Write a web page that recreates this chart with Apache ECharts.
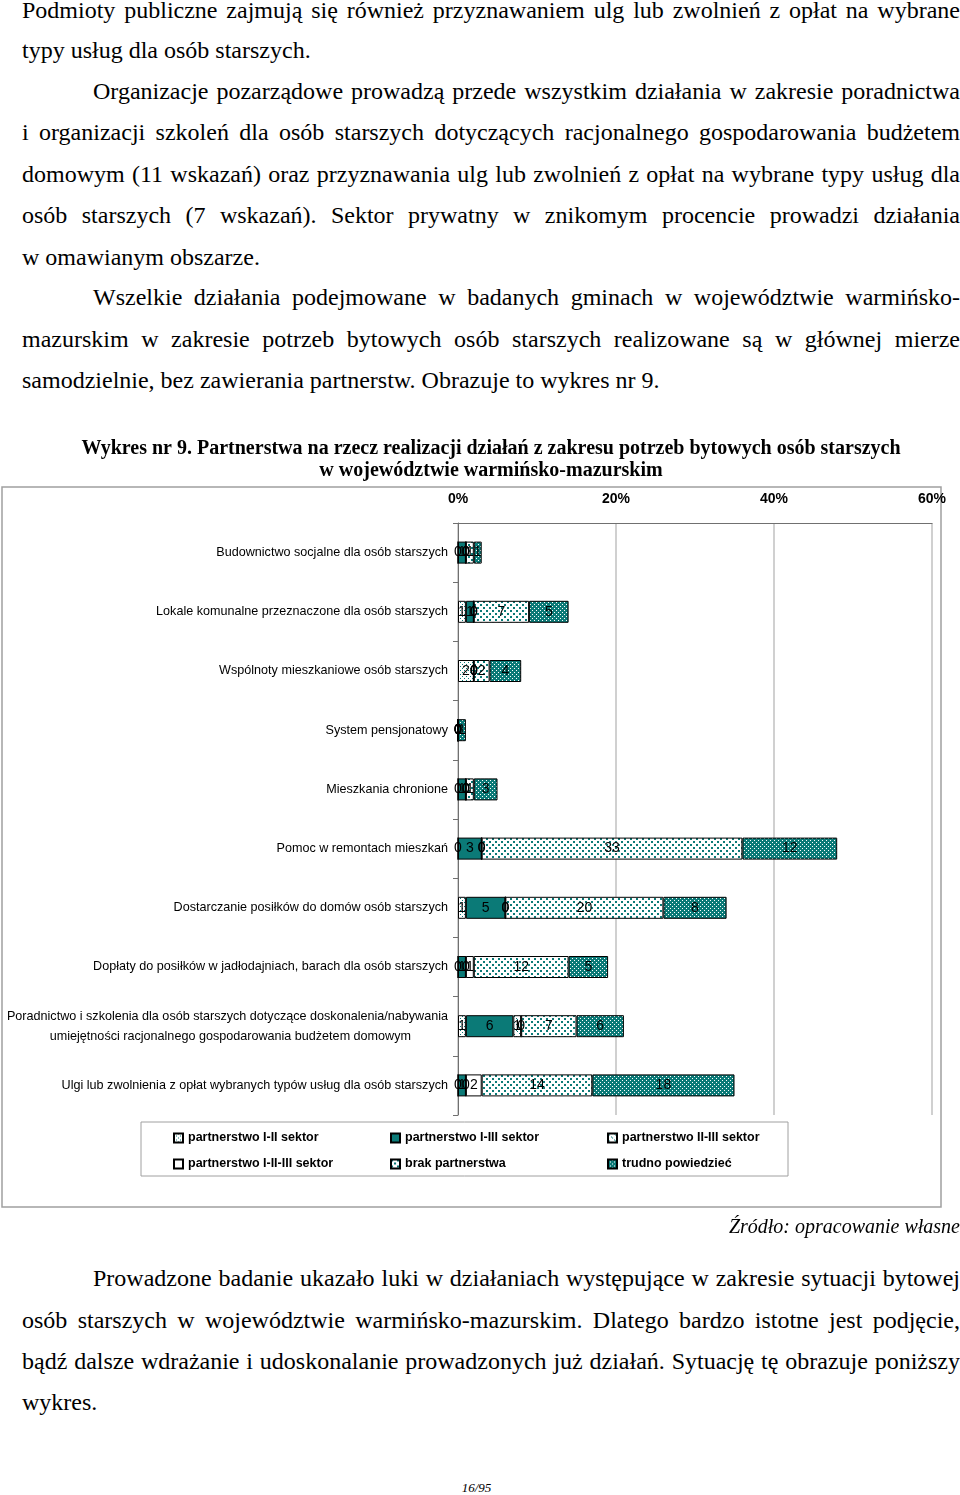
<!DOCTYPE html>
<html>
<head>
<meta charset="utf-8">
<script src="https://cdn.jsdelivr.net/npm/echarts@6/dist/echarts.min.js"></script>
<style>
  html, body { margin: 0; padding: 0; background: #fff; }
  body { width: 960px; height: 1495px; position: relative; overflow: hidden; }
  .ln { position: absolute; font-family: "Liberation Serif", "Times New Roman", serif; font-size: 24px; line-height: 24px; color: #000; white-space: nowrap; }
  .j { text-align: justify; text-align-last: justify; white-space: normal; }
  #chart { position: absolute; left: 0; top: 430px; width: 960px; height: 815px; }
</style>
</head>
<body>
<div class="ln j" style="left:22px;width:938px;top:-2px;">Podmioty publiczne zajmują się również przyznawaniem ulg lub zwolnień z opłat na wybrane</div>
<div class="ln" style="left:22px;top:38px;">typy usług dla osób starszych.</div>
<div class="ln j" style="left:93px;width:867px;top:79px;">Organizacje pozarządowe prowadzą przede wszystkim działania w zakresie poradnictwa</div>
<div class="ln j" style="left:22px;width:938px;top:120px;">i organizacji szkoleń dla osób starszych dotyczących racjonalnego gospodarowania budżetem</div>
<div class="ln j" style="left:22px;width:938px;top:162px;">domowym (11 wskazań) oraz przyznawania ulg lub zwolnień z opłat na wybrane typy usług dla</div>
<div class="ln j" style="left:22px;width:938px;top:203px;">osób starszych (7 wskazań). Sektor prywatny w znikomym procencie prowadzi działania</div>
<div class="ln" style="left:22px;top:245px;">w omawianym obszarze.</div>
<div class="ln j" style="left:93px;width:867px;top:285px;">Wszelkie działania podejmowane w badanych gminach w województwie warmińsko-</div>
<div class="ln j" style="left:22px;width:938px;top:327px;">mazurskim w zakresie potrzeb bytowych osób starszych realizowane są w głównej mierze</div>
<div class="ln" style="left:22px;top:368px;">samodzielnie, bez zawierania partnerstw. Obrazuje to wykres nr 9.</div>

<div id="chart"></div>

<div class="ln" style="right:0px;top:1214px;font-style:italic;font-size:20px;">Źródło: opracowanie własne</div>
<div class="ln j" style="left:93px;width:867px;top:1266px;">Prowadzone badanie ukazało luki w działaniach występujące w zakresie sytuacji bytowej</div>
<div class="ln j" style="left:22px;width:938px;top:1308px;">osób starszych w województwie warmińsko-mazurskim. Dlatego bardzo istotne jest podjęcie,</div>
<div class="ln j" style="left:22px;width:938px;top:1349px;">bądź dalsze wdrażanie i udoskonalanie prowadzonych już działań. Sytuację tę obrazuje poniższy</div>
<div class="ln" style="left:22px;top:1390px;">wykres.</div>
<div class="ln" style="left:0;width:953px;text-align:center;top:1480px;font-style:italic;font-size:13px;line-height:16px;">16/95</div>

<script>
// ---- data ----
const categories = [
  'Budownictwo socjalne dla osób starszych',
  'Lokale komunalne przeznaczone dla osób starszych',
  'Wspólnoty mieszkaniowe osób starszych',
  'System pensjonatowy',
  'Mieszkania chronione',
  'Pomoc w remontach mieszkań',
  'Dostarczanie posiłków do domów osób starszych',
  'Dopłaty do posiłków w jadłodajniach, barach dla osób starszych',
  'Poradnictwo i szkolenia dla osób starszych dotyczące doskonalenia/nabywania\numiejętności racjonalnego gospodarowania budżetem domowym',
  'Ulgi lub zwolnienia z opłat wybranych typów usług dla osób starszych'
];
const seriesNames = [
  'partnerstwo I-II sektor',
  'partnerstwo I-III sektor',
  'partnerstwo II-III sektor',
  'partnerstwo I-II-III sektor',
  'brak partnerstwa',
  'trudno powiedzieć'
];
const partnerI_II     = [0, 1, 2, 0, 0, 0, 1, 0, 1, 0];
const partnerI_III    = [1, 1, 0, 0, 1, 3, 5, 1, 6, 1];
const partnerII_III   = [0, 0, 0, 0, 0, 0, 0, 0, 1, 0];
const partnerI_II_III = [0, 0, 0, 0, 0, 0, 0, 1, 0, 2];
const brakPartnerstwa = [1, 7, 2, 0, 1, 33, 20, 12, 7, 14];
const trudnoPowiedziec = [1, 5, 4, 1, 3, 12, 8, 5, 6, 18];
const xTicks = [0, 20, 40, 60];
const chartTitle = 'Wykres nr 9. Partnerstwa na rzecz realizacji działań z zakresu potrzeb bytowych osób starszych\nw województwie warmińsko-mazurskim';

// ---- patterns ----
const TEAL = '#0b7a77';
function pattern(size, bg, fg, pts, dot) {
  const c = document.createElement('canvas');
  c.width = size; c.height = size;
  const g = c.getContext('2d');
  g.fillStyle = bg; g.fillRect(0, 0, size, size);
  g.fillStyle = fg;
  pts.forEach(p => g.fillRect(p[0], p[1], dot, dot));
  return { image: c, repeat: 'repeat' };
}
const fills = [
  pattern(4, '#ffffff', TEAL, [[0, 0], [2, 2]], 1),
  TEAL,
  pattern(6, '#ffffff', TEAL, [[0, 0], [1, 1], [3, 3], [4, 4]], 1),
  '#ffffff',
  pattern(6, '#ffffff', TEAL, [[0, 0], [3, 3]], 2),
  pattern(4, TEAL, '#ffffff', [[0, 0], [2, 2]], 1)
];
const dataSets = [partnerI_II, partnerI_III, partnerII_III, partnerI_II_III, brakPartnerstwa, trudnoPowiedziec];

const SANS = '"Liberation Sans", Arial, sans-serif';

const chart = echarts.init(document.getElementById('chart'), null, { renderer: 'canvas' });
chart.setOption({
  animation: false,
  backgroundColor: '#fff',
  title: {
    text: chartTitle,
    left: 486,
    textAlign: 'center',
    top: 3,
    textStyle: { fontFamily: '"Liberation Serif", "Times New Roman", serif', fontSize: 20, fontWeight: 'bold', color: '#000', lineHeight: 22 }
  },
  graphic: [
    { type: 'rect', shape: { x: 2, y: 57, width: 939, height: 720 }, style: { fill: null, stroke: '#a0a0a0', lineWidth: 1.5 }, z: -1 },
    { type: 'rect', shape: { x: 141, y: 692, width: 647, height: 54 }, style: { fill: '#fff', stroke: '#a0a0a0', lineWidth: 1 }, z: 1 }
  ],
  grid: { left: 458, right: 28, top: 93, bottom: 130, containLabel: false, outerBoundsMode: 'none' },
  xAxis: {
    type: 'value', position: 'top', min: xTicks[0], max: xTicks[xTicks.length - 1], interval: 20,
    axisLine: { show: true, lineStyle: { color: '#707070', width: 1 } },
    axisTick: { show: false },
    splitLine: { show: true, lineStyle: { color: '#c0c0c0', width: 1.5 } },
    axisLabel: { formatter: '{value}%', margin: 17, color: '#000', fontFamily: SANS, fontSize: 14, fontWeight: 'bold' }
  },
  yAxis: {
    type: 'category', inverse: true, data: categories,
    axisLine: { show: true, lineStyle: { color: '#707070', width: 1 } },
    axisTick: { show: true, length: 5, lineStyle: { color: '#707070' } },
    axisLabel: {
      margin: 10, color: '#000', fontFamily: SANS, fontSize: 12.6, lineHeight: 20,
      formatter: function (v) {
        if (v.indexOf('\n') >= 0) {
          const parts = v.split('\n');
          return parts[0] + '\n{b|' + parts[1] + '}';
        }
        return v;
      },
      rich: { b: { fontFamily: SANS, fontSize: 12.6, color: '#000', padding: [0, 37, 0, 0], lineHeight: 20 } }
    }
  },
  legend: {
    left: 168, top: 696, width: 660,
    itemWidth: 9, itemHeight: 9, itemGap: 12,
    icon: 'rect',
    textStyle: { fontFamily: SANS, fontSize: 12.5, fontWeight: 'bold', color: '#000', width: 190, lineHeight: 14 },
    data: seriesNames
  },
  series: seriesNames.map((name, i) => ({
    name: name, type: 'bar', stack: 'total', barWidth: 22,
    data: dataSets[i],
    itemStyle: { color: fills[i], borderColor: '#000', borderWidth: 1 },
    label: { show: true, position: 'inside', color: '#000', fontFamily: SANS, fontSize: 14 },
    z: 2
  }))
});
</script>
</body>
</html>
